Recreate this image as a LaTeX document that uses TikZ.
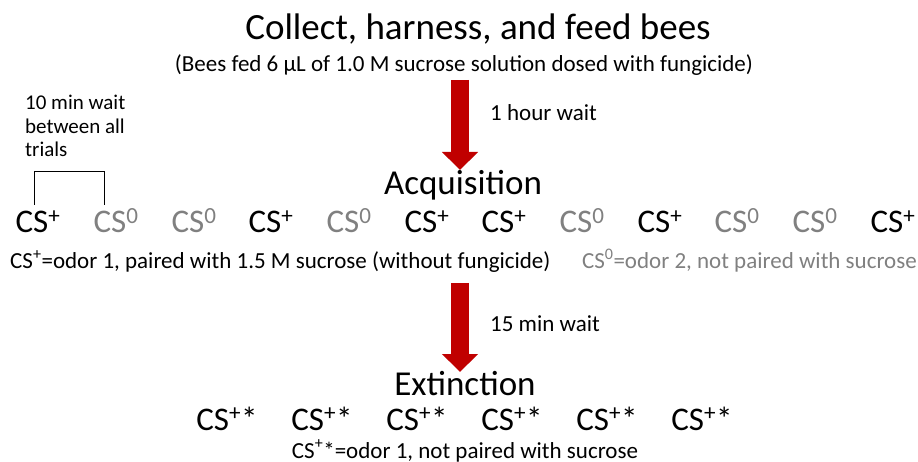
\documentclass[tikz,border=0pt]{standalone}
\usepackage{fontspec}
\setmainfont{Carlito}
\usetikzlibrary{arrows.meta}
\definecolor{arrowred}{RGB}{192,0,0}
\definecolor{csgrey}{RGB}{128,128,128}
\newcommand{\fs}[1]{\fontsize{#1}{#1}\selectfont}
\newcommand{\csp}{CS\textsuperscript{+}}
\newcommand{\csz}{CS\textsuperscript{0}}
\newcommand{\cspx}{CS\textsuperscript{+}*}
\tikzset{
  x=1pt, y=-1pt,
  txt/.style={inner sep=0pt, anchor=base},
  title/.style={txt, font=\fs{37}},
  head/.style={txt, font=\fs{35}},
  sub/.style={txt, font=\fs{23}},
  note/.style={txt, font=\fs{23}},
  small/.style={txt, font=\fs{21}, anchor=base west},
  cs/.style={txt, font=\fs{33}},
  plus/.style={cs, text=black},
  zero/.style={cs, text=csgrey},
  bigarrow/.style={arrowred, line width=18pt, -{Triangle[width=35pt,length=18pt]}},
  bracket/.style={draw, line width=0.8pt, black}
}
\begin{document}
\begin{tikzpicture}
\useasboundingbox (0,0) rectangle (918,462);
\node[title] (title) at (478,40) {Collect, harness, and feed bees};
\node[sub] (subt) at (464,72) {(Bees fed 6 µL of 1.0 M sucrose solution dosed with fungicide)};
\node[note, anchor=base west] (wait1) at (490,121) {1 hour wait};
\node[small] (s1) at (25,110) {10 min wait};
\node[small] (s2) at (25,134) {between all};
\node[small] (s3) at (25,157) {trials};
\node[head] (acq) at (463,195) {Acquisition};
% acquisition row
\node[plus] (c1) at (38,233) {\csp};
\node[zero] (c2) at (116,233) {\csz};
\node[zero] (c3) at (194,233) {\csz};
\node[plus] (c4) at (271,233) {\csp};
\node[zero] (c5) at (349,233) {\csz};
\node[plus] (c6) at (427,233) {\csp};
\node[plus] (c7) at (504,233) {\csp};
\node[zero] (c8) at (582,233) {\csz};
\node[plus] (c9) at (660,233) {\csp};
\node[zero] (c10) at (737,233) {\csz};
\node[zero] (c11) at (815,233) {\csz};
\node[plus] (c12) at (893,233) {\csp};
\node[note, anchor=base west] (leg1) at (10,269) {CS\textsuperscript{+}=odor 1, paired with 1.5 M sucrose (without fungicide)};
\node[note, anchor=base east, text=csgrey] (leg2) at (917,269) {CS\textsuperscript{0}=odor 2, not paired with sucrose};
% bracket
\coordinate (b1) at (34,171);
\coordinate (b2) at (104,171);
\coordinate (b1b) at (34,205);
\draw[bracket] (b1b) -- (b1) -- (b2) -- (b2 |- b1b);
% arrows
\coordinate (a1s) at (460,80);
\coordinate (a1e) at (460,170);
\draw[bigarrow] (a1s) -- (a1e);
\node[note, anchor=base west] (wait2) at (490,331) {15 min wait};
\coordinate (a2s) at (460,283);
\coordinate (a2e) at (460,372);
\draw[bigarrow] (a2s) -- (a2e);
\node[head] (ext) at (465,395) {Extinction};
\node[plus] (e1) at (227,430) {\cspx};
\node[plus] (e2) at (322,430) {\cspx};
\node[plus] (e3) at (417,430) {\cspx};
\node[plus] (e4) at (512,430) {\cspx};
\node[plus] (e5) at (607,430) {\cspx};
\node[plus] (e6) at (702,430) {\cspx};
\node[note] (leg3) at (465,458) {CS\textsuperscript{+}*=odor 1, not paired with sucrose};
\end{tikzpicture}
\end{document}
